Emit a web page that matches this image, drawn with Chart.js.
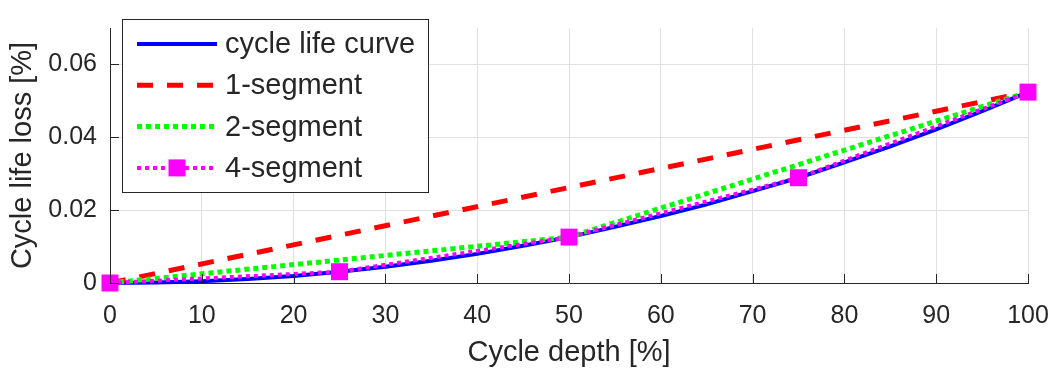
<!DOCTYPE html>
<html>
<head>
<meta charset="utf-8">
<script src="https://cdn.jsdelivr.net/npm/chart.js@4.4.1/dist/chart.umd.min.js"></script>
<style>
  html, body { margin: 0; padding: 0; background: #fff; }
  #wrap { width: 1053px; height: 374px; }
</style>
</head>
<body>
<div id="wrap"><canvas id="chart" width="1053" height="374"></canvas></div>
<script>
// values
const depth = [0, 5, 10, 15, 20, 25, 30, 35, 40, 45, 50, 55, 60, 65, 70, 75, 80, 85, 90, 95, 100];
const curveLoss = [0, 0.00011, 0.00047, 0.00108, 0.00193, 0.0031, 0.00445, 0.0061, 0.008, 0.0102,
  0.0126, 0.0154, 0.0184, 0.0216, 0.0252, 0.0289, 0.0331, 0.0375, 0.0422, 0.0472, 0.0524];
const oneSegDepth = [0, 100];
const oneSegLoss = [0, 0.0524];
const twoSegDepth = [0, 50, 100];
const twoSegLoss = [0, 0.0126, 0.0524];
const fourSegDepth = [0, 25, 50, 75, 100];
const fourSegLoss = [0, 0.0031, 0.0126, 0.0289, 0.0524];
const yTicks = [0, 0.02, 0.04, 0.06];

const FONT = "'Liberation Sans', Arial, Helvetica, sans-serif";
const INK = '#262626';

const pts = (xs, ys) => xs.map((x, i) => ({ x: x, y: ys[i] }));

// MATLAB-style legend box + inward tick marks
const matlabBits = {
  id: 'matlabBits',
  afterDraw(chart) {
    const ctx = chart.ctx;
    const xs = chart.scales.x, ys = chart.scales.y;
    const { left, bottom } = chart.chartArea;
    ctx.save();
    ctx.strokeStyle = INK;
    ctx.lineWidth = 1;
    ctx.setLineDash([]);
    ctx.beginPath();
    xs.ticks.forEach(t => {
      const px = Math.round(xs.getPixelForValue(t.value)) + 0.5;
      ctx.moveTo(px, bottom);
      ctx.lineTo(px, bottom - 9);
    });
    ys.ticks.forEach(t => {
      const py = Math.round(ys.getPixelForValue(t.value)) + 0.5;
      ctx.moveTo(left, py);
      ctx.lineTo(left + 9, py);
    });
    ctx.stroke();

    // legend
    ctx.fillStyle = '#fff';
    ctx.fillRect(122.5, 19.5, 306, 173);
    ctx.strokeRect(122.5, 19.5, 306, 173);
    chart.data.datasets.forEach((ds, i) => {
      const y = 44 + i * 41.3;
      ctx.strokeStyle = ds.borderColor;
      ctx.lineWidth = ds.borderWidth;
      ctx.setLineDash(ds.borderDash || []);
      ctx.beginPath();
      ctx.moveTo(137, y);
      ctx.lineTo(217, y);
      ctx.stroke();
      if (ds.pointRadius > 0) {
        ctx.fillStyle = ds.pointBackgroundColor;
        ctx.fillRect(177 - 8.5, y - 8.5, 17, 17);
      }
      ctx.fillStyle = INK;
      ctx.font = '29px ' + FONT;
      ctx.textBaseline = 'middle';
      ctx.textAlign = 'left';
      ctx.fillText(ds.label, 225, y + 1);
    });
    ctx.restore();
  }
};

new Chart(document.getElementById('chart'), {
  type: 'line',
  data: {
    datasets: [
      {
        label: 'cycle life curve',
        data: pts(depth, curveLoss),
        borderColor: '#0000ff',
        borderWidth: 4,
        pointRadius: 0,
        order: 4,
        clip: false
      },
      {
        label: '1-segment',
        data: pts(oneSegDepth, oneSegLoss),
        borderColor: '#ff0000',
        borderWidth: 5,
        borderDash: [16, 14],
        pointRadius: 0,
        order: 3,
        clip: false
      },
      {
        label: '2-segment',
        data: pts(twoSegDepth, twoSegLoss),
        borderColor: '#00ff00',
        borderWidth: 5,
        borderDash: [5, 4],
        pointRadius: 0,
        order: 2,
        clip: false
      },
      {
        label: '4-segment',
        data: pts(fourSegDepth, fourSegLoss),
        borderColor: '#ff00ff',
        borderWidth: 4,
        borderDash: [4, 4],
        pointStyle: 'rect',
        pointRadius: 12,
        pointBorderWidth: 0,
        pointBackgroundColor: '#ff00ff',
        pointBorderColor: '#ff00ff',
        order: 1,
        clip: false
      }
    ]
  },
  options: {
    responsive: false,
    animation: false,
    events: [],
    layout: { padding: { top: 5, right: 25, left: 0, bottom: 0 } },
    plugins: {
      legend: { display: false },
      tooltip: { enabled: false }
    },
    scales: {
      x: {
        type: 'linear',
        min: 0,
        max: 100,
        ticks: {
          stepSize: 10,
          color: INK,
          font: { family: FONT, size: 25 },
          padding: 18,
          maxRotation: 0
        },
        grid: { color: '#e1e1e1', drawTicks: false },
        border: { color: INK, width: 1 },
        title: {
          display: true,
          text: 'Cycle depth [%]',
          color: INK,
          font: { family: FONT, size: 29 },
          padding: { top: 0, bottom: 4 }
        },
        afterFit(scale) {
          scale.height = 91;
          scale.paddingLeft = 0;
          scale.paddingRight = 0;
        }
      },
      y: {
        type: 'linear',
        min: 0,
        max: 0.07,
        afterBuildTicks(scale) { scale.ticks = yTicks.map(v => ({ value: v })); },
        ticks: {
          color: INK,
          font: { family: FONT, size: 25 },
          padding: 13,
          callback: v => (v === 0 ? '0' : v.toFixed(2))
        },
        grid: { color: '#e1e1e1', drawTicks: false },
        border: { color: INK, width: 1 },
        title: {
          display: true,
          text: 'Cycle life loss [%]',
          color: INK,
          font: { family: FONT, size: 29 },
          padding: { top: 6, bottom: 0 }
        },
        afterFit(scale) { scale.width = 110; }
      }
    }
  },
  plugins: [matlabBits]
});
</script>
</body>
</html>
